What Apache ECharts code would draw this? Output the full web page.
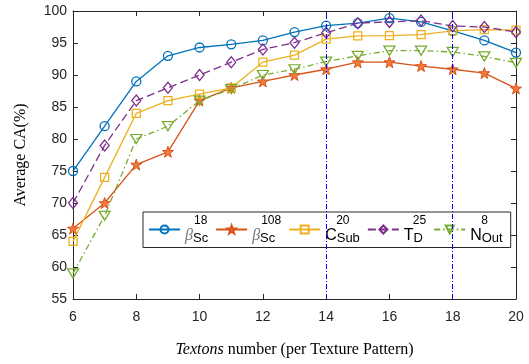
<!DOCTYPE html>
<html>
<head>
<meta charset="utf-8">
<script src="https://cdn.jsdelivr.net/npm/echarts@6/dist/echarts.min.js"></script>
<style>
  html, body { margin: 0; padding: 0; background: #fff; }
  #chart { width: 529px; height: 364px; }
</style>
</head>
<body>
<div id="chart"></div>
<script>
// textons number (x)
const textons = [6, 7, 8, 9, 10, 11, 12, 13, 14, 15, 16, 17, 18, 19, 20];

// average CA (%) per series
const betaSc18  = [75, 82, 89, 93, 94.3, 94.8, 95.4, 96.7, 97.7, 98.1, 98.9, 98.3, 96.9, 95.4, 93.5];
const betaSc108 = [66, 70, 76, 78, 86, 88, 89, 90, 90.9, 92, 92, 91.4, 90.9, 90.3, 87.9];
const cSub20    = [64, 74, 84, 86, 87, 88, 92, 93.1, 95.6, 96.1, 96.15, 96.3, 96.9, 97.1, 97];
const tD25      = [70, 79, 86, 88, 90, 92, 94, 95.05, 96.6, 98.1, 98.3, 98.5, 97.65, 97.5, 96.7];
const nOut8     = [59, 68, 80, 82, 86, 87.8, 90, 90.9, 92.1, 93, 93.8, 93.8, 93.6, 92.9, 91.9];

const markLinesX = [14, 18];

const xTicks = { min: 6, max: 20, step: 2 };
const yTicks = { min: 55, max: 100, step: 5 };

const starPath = 'path://M0,-10 L2.35,-3.24 L9.51,-3.09 L3.8,1.24 L5.88,8.09 L0,4 L-5.88,8.09 L-3.8,1.24 L-9.51,-3.09 L-2.35,-3.24 Z';

const axisColor = '#262626';
const sans = 'Liberation Sans';
const serif = 'Liberation Serif';

function pts(vals) {
    return vals.map((v, i) => [textons[i], v]);
}

// legend labels: base letter, superscript, subscript
const legendParts = {
    b18:  { base: 'β', sup: '18', sub: 'Sc', greek: true },
    b108: { base: 'β', sup: '108', sub: 'Sc', greek: true },
    c20:  { base: 'C', sup: '20', sub: 'Sub', greek: false },
    t25:  { base: 'T', sup: '25', sub: 'D', greek: false },
    n8:   { base: 'N', sup: '8', sub: 'Out', greek: false }
};

const myChart = echarts.init(document.getElementById('chart'));

function makeSeries(name, data, color, symbol, opts) {
    return Object.assign({
        name: name,
        type: 'line',
        data: pts(data),
        symbol: symbol,
        symbolSize: 9,
        color: color,
        lineStyle: { color: color, width: 1.3 },
        itemStyle: { color: 'rgba(0,0,0,0)', borderColor: color, borderWidth: 1.3 },
        emphasis: { disabled: true },
        z: 3
    }, opts || {});
}

const option = {
    animation: false,
    backgroundColor: '#fff',
    grid: { left: 73, right: 13, top: 11, bottom: 65 },
    legend: {
        left: 143,
        top: 212,
        width: 380,
        orient: 'horizontal',
        backgroundColor: '#fff',
        borderColor: axisColor,
        borderWidth: 1,
        padding: [3, 8, 3, 5],
        itemGap: 7,
        itemWidth: 31,
        itemHeight: 10,
        data: ['b18', 'b108', 'c20', 't25', 'n8'],
        formatter: function (name) {
            const p = legendParts[name];
            const pad = '{pad' + (p.greek ? 'g' : p.base) + '| }';
            const base = p.greek ? '{g|' + p.base + '}' : '{big|' + p.base + '}';
            return pad + '{sup|' + p.sup + '}\n' + base + '{sub|' + p.sub + '}';
        },
        textStyle: {
            fontFamily: sans,
            color: '#000',
            rich: {
                padg: { width: 9, fontSize: 10, lineHeight: 13 },
                padC: { width: 11, fontSize: 10, lineHeight: 13 },
                padT: { width: 9, fontSize: 10, lineHeight: 13 },
                padN: { width: 11, fontSize: 10, lineHeight: 13 },
                sup: { fontSize: 12, lineHeight: 13, fontFamily: sans, color: '#000' },
                g: { fontSize: 16, fontStyle: 'italic', fontFamily: serif, color: '#777', lineHeight: 17 },
                big: { fontSize: 16, fontFamily: sans, color: '#000', lineHeight: 17 },
                sub: { fontSize: 13, fontFamily: sans, color: '#000', lineHeight: 17, verticalAlign: 'bottom' }
            }
        }
    },
    xAxis: [
        {
            type: 'value',
            min: xTicks.min,
            max: xTicks.max,
            interval: xTicks.step,
            name: '{i|Textons} number (per Texture Pattern)',
            nameLocation: 'middle',
            nameGap: 43,
            nameTextStyle: {
                fontFamily: serif,
                fontSize: 16,
                color: '#000',
                rich: {
                    i: { fontFamily: serif, fontSize: 16, fontStyle: 'italic', color: '#000' }
                }
            },
            axisLine: { show: true, lineStyle: { color: axisColor, width: 1 } },
            axisTick: { show: true, inside: true, length: 5, lineStyle: { color: axisColor } },
            axisLabel: { fontFamily: sans, fontSize: 14, color: axisColor, margin: 11 },
            splitLine: { show: false }
        },
        {
            type: 'value',
            position: 'top',
            min: xTicks.min,
            max: xTicks.max,
            interval: xTicks.step,
            axisLine: { show: true, onZero: false, lineStyle: { color: axisColor, width: 1 } },
            axisTick: { show: true, inside: true, length: 5, lineStyle: { color: axisColor } },
            axisLabel: { show: false },
            splitLine: { show: false }
        }
    ],
    yAxis: [
        {
            type: 'value',
            min: yTicks.min,
            max: yTicks.max,
            interval: yTicks.step,
            name: 'Average CA(%)',
            nameLocation: 'middle',
            nameGap: 44,
            nameTextStyle: { fontFamily: serif, fontSize: 16, color: '#000' },
            axisLine: { show: true, lineStyle: { color: axisColor, width: 1 } },
            axisTick: { show: true, inside: true, length: 5, lineStyle: { color: axisColor } },
            axisLabel: { fontFamily: sans, fontSize: 14, color: axisColor, margin: 6 },
            splitLine: { show: false }
        },
        {
            type: 'value',
            position: 'right',
            min: yTicks.min,
            max: yTicks.max,
            interval: yTicks.step,
            axisLine: { show: true, onZero: false, lineStyle: { color: axisColor, width: 1 } },
            axisTick: { show: true, inside: true, length: 5, lineStyle: { color: axisColor } },
            axisLabel: { show: false },
            splitLine: { show: false }
        }
    ],
    series: [
        makeSeries('b18', betaSc18, '#0072BD', 'circle', {
            markLine: {
                silent: true,
                symbol: 'none',
                label: { show: false },
                lineStyle: { color: '#0000FF', type: [5, 2, 1, 2], width: 1 },
                data: markLinesX.map(v => ({ xAxis: v }))
            }
        }),
        makeSeries('b108', betaSc108, '#D95319', starPath, {
            symbolSize: 11,
            itemStyle: { color: '#F07A3C', borderColor: '#D95319', borderWidth: 1 }
        }),
        makeSeries('c20', cSub20, '#EDB120', 'rect', { symbolSize: 8 }),
        makeSeries('t25', tD25, '#7E2F8E', 'diamond', {
            symbolSize: [9, 11],
            lineStyle: { color: '#7E2F8E', width: 1.3, type: [8, 4] }
        }),
        makeSeries('n8', nOut8, '#77AC30', 'triangle', {
            symbolSize: [11, 9],
            symbolRotate: 180,
            lineStyle: { color: '#77AC30', width: 1.3, type: [6, 3, 1.5, 3] }
        })
    ]
};

myChart.setOption(option);
</script>
</body>
</html>
